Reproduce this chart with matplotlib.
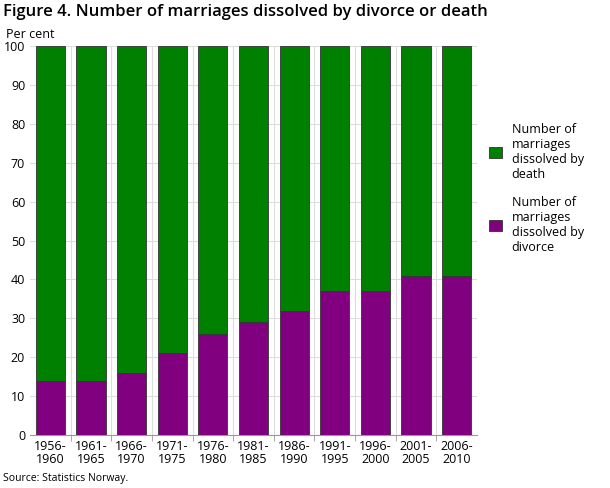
import numpy as np
import matplotlib.pyplot as plt

plt.rcParams['font.family'] = 'Open Sans'

periods = ['1956-\n1960', '1961-\n1965', '1966-\n1970', '1971-\n1975', '1976-\n1980', '1981-\n1985',
           '1986-\n1990', '1991-\n1995', '1996-\n2000', '2001-\n2005', '2006-\n2010']
divorce = [14, 14, 16, 21, 26, 29, 32, 37, 37, 41, 41]
death = [100 - d for d in divorce]

fig = plt.figure(figsize=(6.1, 4.88), dpi=100)
ax = fig.add_axes([30/610, 53/488, 447/610, 389/488])
x = np.arange(len(periods))
ax.bar(x, divorce, width=0.72, color='#800080', edgecolor='#333333', linewidth=0.6,
       label='Number of\nmarriages\ndissolved by\ndivorce', zorder=3)
ax.bar(x, death, bottom=divorce, width=0.72, color='#008000', edgecolor='#333333', linewidth=0.6,
       label='Number of\nmarriages\ndissolved by\ndeath', zorder=3)

ax.set_xlim(-0.5, len(periods) - 0.5)
ax.set_ylim(0, 100)
ax.set_yticks(range(0, 101, 10))
ax.set_xticks(x)
ax.set_xticklabels(periods, fontsize=9, linespacing=1.0)
ax.tick_params(axis='y', labelsize=9, length=0)
ax.tick_params(axis='x', length=0)
ax.set_xticks(x[:-1] + 0.5, minor=True)
ax.tick_params(axis='x', which='minor', length=4, color='#999999')
ax.grid(axis='y', color='#dddddd', linewidth=0.8, zorder=0)
ax.grid(axis='x', which='minor', color='#dddddd', linewidth=0.8, zorder=0)
for s in ['top', 'right', 'left']:
    ax.spines[s].set_visible(False)
ax.spines['bottom'].set_color('#999999')

h, l = ax.get_legend_handles_labels()
fig.legend(h[::-1], l[::-1], loc='upper left', bbox_to_anchor=(484/610, 1 - 118/488),
           frameon=False, fontsize=9, handlelength=1.0, handleheight=1.0,
           labelspacing=1.2, borderaxespad=0)

fig.text(3/610, 1 - 12/488, 'Figure 4. Number of marriages dissolved by divorce or death',
         fontsize=12, fontweight='semibold', va='center', ha='left')
fig.text(6/610, 1 - 34/488, 'Per cent', fontsize=9, va='center')
fig.text(3/610, 1 - 479/488, 'Source: Statistics Norway.', fontsize=7.5, va='center')

fig.savefig('out.png', dpi=100)
